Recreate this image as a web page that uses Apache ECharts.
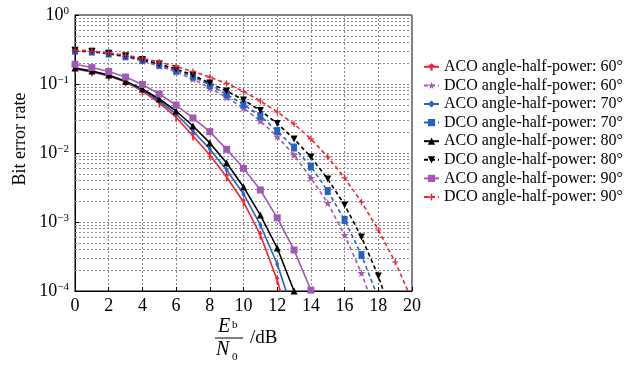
<!DOCTYPE html>
<html>
<head>
<meta charset="utf-8">
<script src="https://cdn.jsdelivr.net/npm/echarts@6/dist/echarts.min.js"></script>
<style>
  html, body {margin: 0; padding: 0; background: #fff;}
  #chart {width: 631px; height: 370px;}
</style>
</head>
<body>
<div id="chart"></div>
<script>
// Eb/N0 in dB, one marker per dB
const snr = [0, 1, 2, 3, 4, 5, 6, 7, 8, 9, 10, 11, 12, 13, 14, 15, 16, 17, 18, 19, 20];
const yDecades = [1e-4, 1e-3, 1e-2, 1e-1, 1];
const minorSteps = [2, 3, 4, 5, 6, 7, 8, 9];

// bit error rate
const aco60 = [0.165, 0.149, 0.131, 0.107, 0.0792, 0.0531, 0.033, 0.0176, 0.00935, 0.00449, 0.00195, 6.48e-4, 1.44e-4, 1.95e-5];
const dco60 = [0.301, 0.291, 0.272, 0.246, 0.216, 0.182, 0.149, 0.118, 0.0875, 0.0637, 0.0449, 0.0291, 0.0173, 0.00935, 0.00435, 0.00188, 6.48e-4, 1.82e-4, 3.8e-5];
const aco70 = [0.168, 0.152, 0.133, 0.109, 0.0819, 0.0567, 0.0367, 0.0208, 0.0114, 0.00567, 0.00255, 9.05e-4, 2.46e-4, 4.5e-5];
const dco70 = [0.306, 0.296, 0.277, 0.253, 0.223, 0.190, 0.157, 0.128, 0.0968, 0.0705, 0.0505, 0.0344, 0.0208, 0.0120, 0.00637, 0.00281, 0.00107, 3.32e-4, 7.9e-5];
const aco80 = [0.170, 0.154, 0.135, 0.110, 0.0847, 0.0606, 0.0406, 0.0246, 0.0140, 0.00716, 0.00322, 0.00126, 4.2e-4, 1.0e-4];
const dco80 = [0.306, 0.296, 0.277, 0.255, 0.226, 0.195, 0.165, 0.135, 0.103, 0.0792, 0.0586, 0.0413, 0.0268, 0.0160, 0.00875, 0.00420, 0.00176, 6.07e-4, 1.65e-4, 3.2e-5];
const aco90 = [0.193, 0.173, 0.152, 0.126, 0.0984, 0.0716, 0.0496, 0.0322, 0.0204, 0.0113, 0.0060, 0.00291, 0.00115, 3.93e-4, 1.03e-4];
const dco90 = [0.311, 0.301, 0.283, 0.261, 0.236, 0.208, 0.179, 0.152, 0.126, 0.102, 0.0779, 0.0567, 0.0393, 0.0263, 0.0160, 0.00875, 0.00435, 0.00195, 7.66e-4, 2.63e-4, 7.4e-5];

const FONT = '"Liberation Serif", "DejaVu Serif", serif';
const RED = '#f5222d', PURPLE = '#a05ab4', BLUE = '#2662c4', BLACK = '#000';
const GRID = {color: '#8a8a8a', type: [2, 2], width: 1};

const PLUS = 'path://M4,0H6V4H10V6H6V10H4V6H0V4H4Z';
const STAR = 'path://M5,0L6.2,3.8L10,3.8L7,6.2L8.1,10L5,7.7L1.9,10L3,6.2L0,3.8L3.8,3.8Z';
const ARROW = 'path://M3,0L6,5L4,5L4,12L2,12L2,5L0,5Z';

const pairs = (arr) => arr.map((v, i) => [snr[i], v]);

const mk = (name, data, color, dashed, symbol, size, rot) => ({
    name: name,
    type: 'line',
    data: pairs(data),
    symbol: symbol,
    symbolSize: size,
    symbolRotate: rot || 0,
    showAllSymbol: true,
    clip: true,
    itemStyle: {color: color},
    lineStyle: {color: color, width: 1.6, type: dashed ? [4, 3] : 'solid'},
    z: 5
});

// minor log grid: 2..9 x 10^k
const minorLines = [];
yDecades.slice(0, 4).forEach(d => {
    minorSteps.forEach(m => minorLines.push({yAxis: m * d}));
});

const names = [
    'ACO angle-half-power: 60°', 'DCO angle-half-power: 60°',
    'ACO angle-half-power: 70°', 'DCO angle-half-power: 70°',
    'ACO angle-half-power: 80°', 'DCO angle-half-power: 80°',
    'ACO angle-half-power: 90°', 'DCO angle-half-power: 90°'
];

const chart = echarts.init(document.getElementById('chart'));
chart.setOption({
    animation: false,
    backgroundColor: '#fff',
    textStyle: {fontFamily: FONT, color: '#000'},
    grid: {left: 75, right: 219, top: 15, bottom: 79, show: true, borderColor: '#000', borderWidth: 1},
    legend: {
        data: names,
        orient: 'vertical',
        left: 418,
        top: 53,
        itemWidth: 15,
        itemHeight: 9,
        itemGap: 1,
        textStyle: {fontFamily: FONT, fontSize: 16, color: '#000', lineHeight: 17.6}
    },
    xAxis: {
        type: 'value',
        min: 0,
        max: 20,
        interval: 2,
        axisLine: {lineStyle: {color: '#000', width: 1}},
        axisTick: {inside: true, length: 4, lineStyle: {color: '#000'}},
        axisLabel: {fontFamily: FONT, fontSize: 18, color: '#000', margin: 6},
        splitLine: {show: true, lineStyle: GRID}
    },
    yAxis: {
        type: 'log',
        logBase: 10,
        min: 1e-4,
        max: 1,
        axisLine: {lineStyle: {color: '#000', width: 1}},
        axisTick: {inside: true, length: 4, lineStyle: {color: '#000'}},
        axisLabel: {
            margin: 6,
            formatter: (v) => '{b|10}{s|' + String(Math.round(Math.log10(v))).replace('-', '−') + '}',
            rich: {
                b: {fontFamily: FONT, fontSize: 18, color: '#000', verticalAlign: 'bottom', lineHeight: 18},
                s: {fontFamily: FONT, fontSize: 11, color: '#000', verticalAlign: 'top', lineHeight: 18, padding: [0, 0, 8, 0]}
            }
        },
        splitLine: {show: true, lineStyle: GRID}
    },
    graphic: [
        {type: 'text', x: 20, y: 139, rotation: Math.PI / 2,
            style: {text: 'Bit error rate', font: '18px ' + FONT, fill: '#000', align: 'center', verticalAlign: 'middle'}},
        {type: 'text', left: 218, top: 317, style: {text: 'E', font: 'italic 20px ' + FONT, fill: '#000'}},
        {type: 'text', left: 232, top: 320, style: {text: 'b', font: '11px ' + FONT, fill: '#000'}},
        {type: 'line', shape: {x1: 215, y1: 338, x2: 243, y2: 338}, style: {stroke: '#000', lineWidth: 1}},
        {type: 'text', left: 216, top: 340, style: {text: 'N', font: 'italic 20px ' + FONT, fill: '#000'}},
        {type: 'text', left: 232, top: 352, style: {text: '0', font: '11px ' + FONT, fill: '#000'}},
        {type: 'text', left: 250, top: 329, style: {text: '/dB', font: '19px ' + FONT, fill: '#000'}}
    ],
    series: [
        {
            type: 'line',
            data: [],
            silent: true,
            symbol: 'none',
            markLine: {
                silent: true,
                symbol: 'none',
                precision: 8,
                label: {show: false},
                lineStyle: GRID,
                data: minorLines
            },
            z: 1
        },
        mk(names[0], aco60, RED, false, ARROW, [5, 9]),
        mk(names[1], dco60, PURPLE, true, STAR, 8),
        mk(names[2], aco70, BLUE, false, 'diamond', [4, 7]),
        mk(names[3], dco70, BLUE, true, 'rect', [6, 8]),
        mk(names[4], aco80, BLACK, false, 'triangle', 7),
        mk(names[5], dco80, BLACK, true, 'triangle', 7, 180),
        mk(names[6], aco90, PURPLE, false, 'rect', 7),
        mk(names[7], dco90, RED, true, PLUS, 6)
    ]
});
</script>
</body>
</html>
